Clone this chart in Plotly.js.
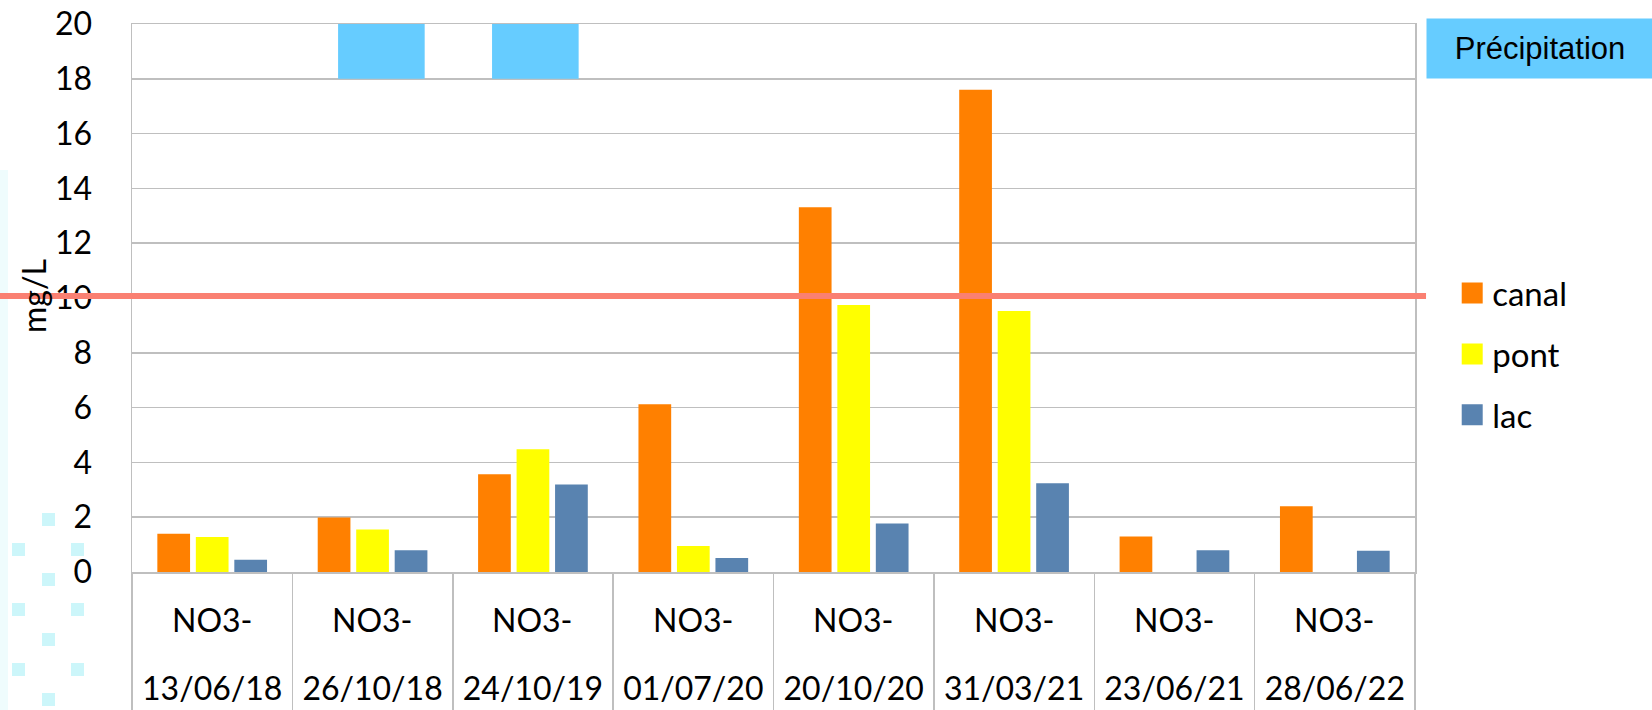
<!DOCTYPE html>
<html>
<head>
<meta charset="utf-8">
<script src="https://cdn.plot.ly/plotly-3.0.1.min.js"></script>
<style>html,body{margin:0;padding:0;background:#fff;}#chart{width:1652px;height:710px;}</style>
</head>
<body>
<div id="chart"></div>
<script>
// ---- data ----
const dates = ['13/06/18','26/10/18','24/10/19','01/07/20','20/10/20','31/03/21','23/06/21','28/06/22'];
const species = ['NO3-','NO3-','NO3-','NO3-','NO3-','NO3-','NO3-','NO3-'];
const canal = [1.40, 1.99, 3.57, 6.12, 13.31, 17.60, 1.30, 2.40];
const pont  = [1.28, 1.55, 4.48, 0.95, 9.74, 9.53, null, null];
const lac   = [0.45, 0.79, 3.19, 0.51, 1.77, 3.24, 0.79, 0.78];
const precipitation = [null, 2.1, 2.1, null, null, null, null, null]; // band height above 18
const precipBase = 18;
const threshold = 10.07;
const yTitle = 'mg/L';
const precipLabel = 'Précipitation';
const seriesNames = ['canal', 'pont', 'lac'];
const seriesColors = ['#FF8000', '#FFFF00', '#5983B0'];
const seriesValues = [canal, pont, lac];

const tickFont = {family: 'Lato, sans-serif', size: 32, color: '#000'};

const traces = [];
seriesNames.forEach((n, i) => {
  traces.push({type:'bar', name:n, x:dates, y:seriesValues[i], marker:{color:seriesColors[i]},
    legendgroup:n, showlegend:false});
});
traces.push({type:'bar', name:precipLabel, x:dates, y:precipitation, base:precipBase, xaxis:'x2',
   width:0.54, offset:[-0.27,-0.215,-0.255,-0.27,-0.27,-0.27,-0.27,-0.27], marker:{color:'#66CCFF'},
   showlegend:false, cliponaxis:false});
// legend entries (larger square keys)
seriesNames.forEach((n, i) => {
  traces.push({type:'scatter', mode:'markers', name:n, x:[null], y:[null], xaxis:'x2', legendgroup:n,
    marker:{symbol:'square', size:16, color:seriesColors[i], line:{color:seriesColors[i], width:5}}});
});

// decorative background squares (page pixel coords)
const L = 132, B = 572;
function pxRect(X, Y, w, h, color) {
  return {type:'rect', layer:'below', xref:'paper', yref:'paper', xsizemode:'pixel', ysizemode:'pixel',
    xanchor:0, yanchor:0, x0:X-L, x1:X+w-L, y0:B-(Y+h), y1:B-Y, line:{width:0}, fillcolor:color};
}
const shapes = [];
shapes.push(pxRect(0, 170, 8, 540, '#EFFCFD'));
for (let r = 0; r < 7; r++) {
  const Y = 513 + r*30;
  if (r % 2 === 0) shapes.push(pxRect(42, Y, 13, 13, '#CCF6FA'));
  else { shapes.push(pxRect(12, Y, 13, 13, '#CCF6FA')); shapes.push(pxRect(71, Y, 13, 13, '#CCF6FA')); }
}
// threshold line
shapes.push({type:'line', layer:'above', xref:'paper', yref:'y', x0:-0.1029, x1:1.0086, y0:threshold, y1:threshold,
  line:{color:'#FA8072', width:6}});

const annotations = species.map((s, i) => ({
  text:s, x:dates[i], xref:'x', yref:'paper', y:0, yanchor:'middle', yshift:-47, showarrow:false,
  font:tickFont
}));
annotations.push({text:precipLabel, xref:'paper', yref:'paper', x:1, y:1, xanchor:'left', yanchor:'middle',
  xshift:11, yshift:-24.5, width:226, height:59, bgcolor:'#66CCFF', borderpad:0, showarrow:false,
  font:{family:'Liberation Sans, Arial, sans-serif', size:31, color:'#000'}});
// y-axis title
annotations.push({text:yTitle, textangle:-90, xref:'paper', yref:'paper', x:0, y:0.5, xanchor:'center',
  yanchor:'middle', xshift:-99, yshift:2, showarrow:false,
  font:{family:'Lato, sans-serif', size:32, color:'#000'}});

const layout = {
  width:1652, height:710,
  margin:{l:132, r:237, t:24, b:138, autoexpand:false},
  paper_bgcolor:'#fff', plot_bgcolor:'#fff',
  barmode:'group', bargap:0.28, bargroupgap:0.15,
  showlegend:true,
  legend:{x:1.029, xanchor:'left', y:0.56, yanchor:'top', font:{family:'Lato, sans-serif', size:33, color:'#000'},
    tracegroupgap:15, bgcolor:'rgba(0,0,0,0)'},
  xaxis:{type:'category', categoryarray:dates, range:[-0.5,7.5], tickson:'boundaries', ticks:'outside', ticklen:140,
    tickcolor:'#BFBFBF', tickwidth:1.5, showline:true, linecolor:'#BFBFBF', linewidth:1.5, mirror:true,
    showgrid:false, tickfont:tickFont, ticklabelstandoff:88, automargin:false, fixedrange:true},
  xaxis2:{type:'category', categoryarray:dates, range:[-0.5,7.5], overlaying:'x', visible:false},
  yaxis:{range:[0,20], dtick:2, tick0:0, showgrid:true, gridcolor:'#BFBFBF', gridwidth:1.5, zeroline:false,
    showline:true, linecolor:'#BFBFBF', linewidth:1.5, mirror:true, ticks:'', ticklabelstandoff:32,
    tickfont:tickFont, automargin:false},
  shapes:shapes,
  annotations:annotations
};

Plotly.newPlot('chart', traces, layout, {displayModeBar:false, staticPlot:true});
</script>
</body>
</html>
